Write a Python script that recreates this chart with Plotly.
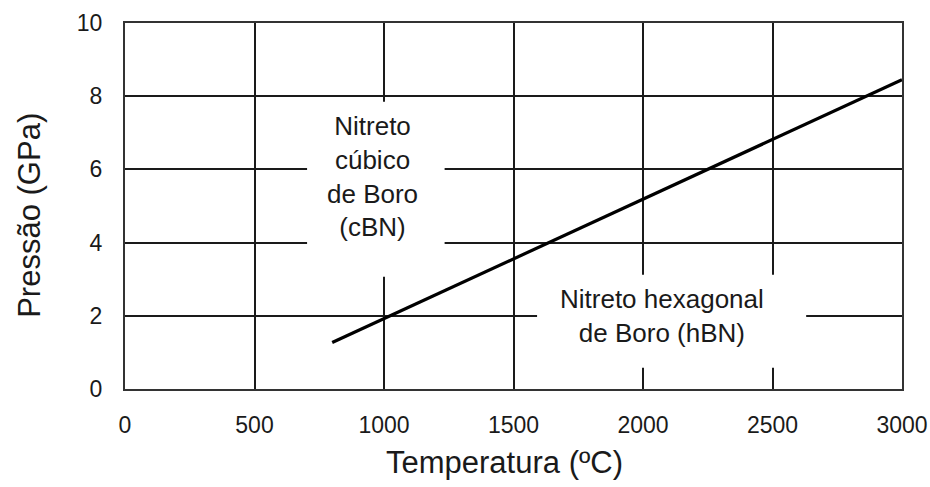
import plotly.graph_objects as go

# Phase boundary between cubic and hexagonal boron nitride
temperatura = [800, 3000]          # ºC
pressao = [1.27, 8.45]             # GPa

x_ticks = [0, 500, 1000, 1500, 2000, 2500, 3000]
y_ticks = [0, 2, 4, 6, 8, 10]

label_cbn = "Nitreto<br>cúbico<br>de Boro<br>(cBN)"
label_hbn = "Nitreto hexagonal<br>de Boro (hBN)"
x_title = "Temperatura (ºC)"
y_title = "Pressão (GPa)"

tick_font = dict(family="Liberation Sans, Arial", size=23, color="#1a1a1a")
text_font = dict(family="Liberation Sans, Arial", size=26, color="#1a1a1a")
title_font = dict(family="Liberation Sans, Arial", size=31, color="#1a1a1a")

fig = go.Figure()
fig.add_trace(go.Scatter(
    x=temperatura, y=pressao, mode="lines",
    line=dict(color="black", width=3.2), showlegend=False, hoverinfo="skip",
))

# white panels that interrupt the grid behind the region labels
fig.add_shape(type="rect", xref="x", yref="y", x0=703, x1=1234, y0=3.07, y1=7.85,
              fillcolor="white", line=dict(width=0), layer="above")
fig.add_shape(type="rect", xref="x", yref="y", x0=1591, x1=2630, y0=0.58, y1=3.12,
              fillcolor="white", line=dict(width=0), layer="above")

fig.add_annotation(x=955, y=5.8, xref="x", yref="y", text=label_cbn, showarrow=False,
                   font=text_font, align="center")
fig.add_annotation(x=2075, y=2.0, xref="x", yref="y", text=label_hbn, showarrow=False,
                   font=text_font, align="center")

# axis titles
fig.add_annotation(x=0.488, y=-0.2, xref="paper", yref="paper", text=x_title,
                   showarrow=False, font=title_font, xanchor="center", yanchor="middle")
fig.add_annotation(x=-0.124, y=0.475, xref="paper", yref="paper", text=y_title,
                   showarrow=False, font=title_font, textangle=-90,
                   xanchor="center", yanchor="middle")

axis_common = dict(
    showgrid=True, gridcolor="#1a1a1a", gridwidth=1.6,
    showline=True, linecolor="#333333", linewidth=2, mirror=True,
    zeroline=False, ticks="", tickfont=tick_font,
    ticklabeloverflow="allow", automargin=False,
)

fig.update_xaxes(range=[0, 3000], tickvals=x_ticks, ticklabelstandoff=14, **axis_common)
fig.update_yaxes(range=[0, 10], tickvals=y_ticks, ticklabelstandoff=16, **axis_common)

fig.update_layout(
    width=930, height=487,
    margin=dict(l=125, r=28, t=23, b=98),
    plot_bgcolor="white", paper_bgcolor="white",
)

fig.write_html("out.html")
